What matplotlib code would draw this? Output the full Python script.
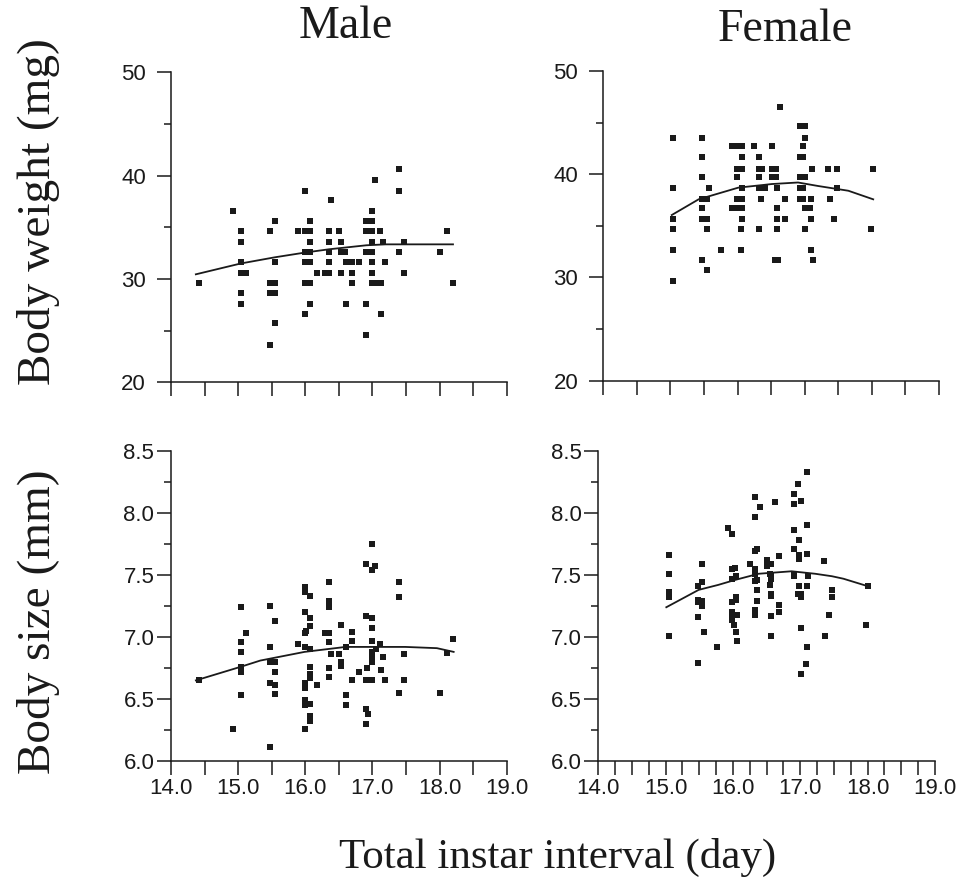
import matplotlib
matplotlib.use("Agg")
import matplotlib.pyplot as plt
from matplotlib.ticker import MultipleLocator, FormatStrFormatter

# ---------------- data
# Male, body weight (mg)
male_w_x = [14.42, 14.92, 15.04, 15.04, 15.04, 15.04, 15.12, 15.04, 15.04,
            15.48, 15.55, 15.55, 15.48, 15.55, 15.48, 15.55, 15.55, 15.48,
            15.99, 15.89, 15.99, 16.07, 16.07, 16.07, 15.99, 16.07, 15.99, 16.07, 15.99, 16.07, 16.07, 15.99,
            16.18, 16.30, 16.36, 16.38, 16.35, 16.35, 16.35, 16.35,
            16.50, 16.53, 16.53, 16.59, 16.53, 16.60, 16.70, 16.80, 16.70, 16.70, 16.60,
            16.91, 16.99, 16.99, 17.04, 16.91, 16.99, 17.11, 16.99, 17.16, 16.91, 16.99, 16.99, 17.19,
            17.00, 16.99, 17.06, 17.13, 16.91, 17.13, 16.91,
            17.39, 17.39, 17.47, 17.39, 17.47, 18.01, 18.11, 18.20]
male_w_y = [29.6, 36.6, 34.6, 33.6, 31.6, 30.6, 30.6, 28.6, 27.6,
            34.6, 35.6, 31.6, 29.6, 29.6, 28.6, 28.6, 25.7, 23.6,
            38.5, 34.6, 34.6, 34.6, 35.6, 33.6, 32.6, 32.6, 31.6, 31.6, 29.6, 29.6, 27.6, 26.6,
            30.6, 30.6, 30.6, 37.6, 34.6, 33.6, 32.6, 31.6,
            34.6, 33.6, 32.6, 32.6, 30.6, 31.6, 31.6, 31.6, 30.6, 29.6, 27.6,
            35.6, 35.6, 36.6, 39.6, 34.6, 34.6, 34.6, 33.6, 33.6, 32.6, 32.6, 31.6, 31.6,
            30.6, 29.6, 29.6, 29.6, 27.6, 26.6, 24.6,
            40.6, 38.5, 33.6, 32.6, 30.6, 32.6, 34.6, 29.6]
male_w_fit_x = [14.37, 15.04, 15.55, 15.99, 16.35, 16.91, 17.20, 17.60, 18.20]
male_w_fit_y = [30.45, 31.5, 32.1, 32.55, 32.87, 33.26, 33.35, 33.35, 33.35]

# Female, body weight (mg)
female_w_x = [15.04, 15.04, 15.04, 15.04, 15.04, 15.04,
              15.47, 15.47, 15.47, 15.47, 15.55, 15.47, 15.47, 15.55, 15.55, 15.47, 15.55, 15.58, 15.76,
              15.91, 16.01, 16.06, 16.06, 15.99, 16.06, 15.99, 16.06, 15.99, 16.06, 15.91, 15.99, 16.06,
              16.06, 16.05, 16.05,
              16.25, 16.32, 16.32, 16.36, 16.32, 16.32, 16.41, 16.35, 16.32,
              16.51, 16.51, 16.57, 16.51, 16.57, 16.58, 16.58, 16.58, 16.58, 16.55, 16.60, 16.63, 16.71, 16.71,
              16.93, 17.00, 17.01, 16.98, 16.93, 16.98, 16.93, 17.00, 16.93, 16.98, 16.93, 16.98, 17.00,
              17.08, 17.01,
              17.11, 17.10, 17.10, 17.09, 17.13,
              17.35, 17.48, 17.37, 17.48, 17.43, 18.01, 17.98]
female_w_y = [43.5, 38.7, 35.7, 34.7, 32.7, 29.7,
              43.5, 41.7, 39.7, 37.6, 37.6, 36.7, 35.7, 35.7, 34.7, 31.7, 30.7, 38.7, 32.7,
              42.7, 42.7, 42.7, 41.7, 40.5, 40.5, 39.7, 38.7, 37.6, 37.6, 36.7, 36.7, 36.7,
              35.7, 34.7, 32.7,
              42.7, 41.7, 40.5, 40.5, 39.7, 38.7, 38.7, 37.6, 34.7,
              42.7, 40.5, 40.5, 39.7, 39.7, 38.7, 36.7, 35.7, 34.7, 31.7, 31.7, 46.5, 37.6, 35.7,
              44.7, 44.7, 43.5, 42.7, 41.7, 41.7, 39.7, 39.7, 38.7, 38.7, 37.6, 37.6, 36.7,
              36.7, 34.7,
              40.5, 37.6, 35.7, 32.7, 31.7,
              40.5, 40.5, 37.6, 38.7, 35.7, 40.5, 34.7]
female_w_fit_x = [15.02, 15.42, 16.01, 16.51, 16.90, 17.20, 17.65, 18.02]
female_w_fit_y = [36.05, 37.57, 38.7, 39.05, 39.2, 38.86, 38.4, 37.57]

# Male, body size (mm)
male_s_x = [14.42, 14.92,
            15.04, 15.04, 15.04, 15.04, 15.04, 15.04, 15.12,
            15.48, 15.48, 15.48, 15.55, 15.48, 15.48, 15.55, 15.55, 15.55, 15.55,
            15.89, 15.99, 15.99, 16.07, 15.99, 16.07, 16.07, 16.01, 15.99, 15.99, 16.07, 16.07,
            16.07, 16.07, 15.99, 15.99, 15.99, 15.99, 16.07, 16.07, 16.07, 15.99,
            16.18, 16.35, 16.35, 16.35, 16.30, 16.36, 16.35, 16.38, 16.35, 16.35,
            16.53, 16.50, 16.53, 16.53, 16.60, 16.60, 16.60, 16.70, 16.70, 16.70, 16.80,
            16.91, 16.91, 16.92, 16.91, 16.99, 16.91, 16.93, 16.91, 16.99, 17.04, 17.00,
            16.99, 16.99, 16.99, 16.99, 16.99, 17.00, 17.06, 17.12, 17.16, 17.13, 17.19,
            17.39, 17.39, 17.47, 17.47, 17.39, 18.01, 18.11, 18.20]
male_s_y = [6.65, 6.26,
            7.24, 6.96, 6.88, 6.76, 6.72, 6.53, 7.03,
            7.25, 6.92, 6.80, 6.80, 6.63, 6.11, 7.13, 6.72, 6.61, 6.54,
            6.94, 7.40, 7.36, 7.33, 7.20, 7.15, 7.09, 7.05, 7.03, 6.92, 6.90, 6.76,
            6.70, 6.67, 6.63, 6.59, 6.49, 6.45, 6.46, 6.36, 6.32, 6.26,
            6.61, 7.44, 7.29, 7.24, 7.03, 7.03, 6.96, 6.86, 6.75, 6.68,
            7.10, 6.86, 6.80, 6.77, 6.92, 6.53, 6.45, 7.04, 6.97, 6.65, 6.72,
            7.59, 7.17, 6.75, 6.65, 6.65, 6.42, 6.38, 6.30, 7.75, 7.57, 7.54,
            7.15, 7.07, 6.97, 6.88, 6.84, 6.80, 6.90, 6.94, 6.84, 6.73, 6.65,
            7.44, 7.32, 6.86, 6.65, 6.55, 6.55, 6.87, 6.98]
male_s_fit_x = [14.37, 15.04, 15.33, 15.99, 16.60, 17.01, 17.49, 17.96, 18.21]
male_s_fit_y = [6.65, 6.76, 6.81, 6.88, 6.92, 6.92, 6.92, 6.91, 6.88]

# Female, body size (mm)
female_s_x = [15.05, 15.05, 15.05, 15.05, 15.05,
              15.48, 15.48, 15.48, 15.48, 15.48, 15.54, 15.54, 15.54, 15.54, 15.57, 15.77,
              15.92, 15.98, 15.98, 16.03, 15.98, 15.98, 15.98, 15.98, 15.98, 16.01, 16.04,
              16.05, 16.05, 16.05, 16.06, 16.06,
              16.25, 16.33, 16.33, 16.40, 16.33, 16.35, 16.33, 16.33, 16.35, 16.33, 16.35,
              16.35, 16.33, 16.33,
              16.50, 16.51, 16.57, 16.55, 16.57, 16.57, 16.55, 16.57, 16.57, 16.57, 16.57,
              16.62, 16.69, 16.69, 16.69,
              16.91, 16.91, 16.96, 17.01, 16.91, 16.98, 16.91, 16.98, 16.98, 16.91, 16.91,
              16.98, 16.96, 17.01, 17.01, 17.01, 17.01, 17.08,
              17.10, 17.10, 17.10, 17.10, 17.12, 17.10,
              17.35, 17.37, 17.42, 17.47, 17.47, 18.00, 17.97]
female_s_y = [7.66, 7.51, 7.36, 7.32, 7.01,
              7.41, 7.30, 7.28, 7.16, 6.79, 7.59, 7.44, 7.29, 7.25, 7.04, 6.92,
              7.88, 7.83, 7.55, 7.56, 7.47, 7.28, 7.20, 7.16, 7.14, 7.10, 7.04,
              7.49, 7.32, 7.30, 7.18, 6.97,
              7.59, 8.13, 7.97, 8.05, 7.69, 7.71, 7.55, 7.51, 7.46, 7.45, 7.38,
              7.29, 7.22, 7.18,
              7.62, 7.57, 7.59, 7.51, 7.50, 7.47, 7.42, 7.35, 7.33, 7.17, 7.01,
              8.09, 7.65, 7.26, 7.20,
              8.15, 8.07, 8.23, 8.10, 7.86, 7.78, 7.71, 7.66, 7.63, 7.50, 7.49,
              7.41, 7.35, 7.35, 7.32, 7.07, 6.70, 6.78,
              8.33, 7.90, 7.67, 7.41, 7.49, 6.92,
              7.61, 7.01, 7.18, 7.38, 7.32, 7.41, 7.10]
female_s_fit_x = [15.01, 15.49, 15.78, 16.03, 16.38, 16.87, 17.22, 17.47, 17.64, 18.00]
female_s_fit_y = [7.24, 7.38, 7.42, 7.46, 7.51, 7.53, 7.51, 7.49, 7.47, 7.41]

#------------- figure
W, H = 957, 877
fig = plt.figure(figsize=(W / 100, H / 100), dpi=100)

sans = "Liberation Sans"
serif = "Liberation Serif"
ink = "#1a1a1a"


def panel(rect, xs, ys, fx, fy, top, minor_x):
    ax = fig.add_axes(rect)
    ax.plot(xs, ys, "s", color=ink, markersize=4.0, markeredgewidth=0)
    ax.plot(fx, fy, "-", color=ink, linewidth=1.3)
    ax.spines["top"].set_visible(False)
    ax.spines["right"].set_visible(False)
    for s in ("left", "bottom"):
        ax.spines[s].set_linewidth(1.1)
        ax.spines[s].set_color(ink)
    ax.set_xlim(14.0, 19.0)
    ax.xaxis.set_major_locator(MultipleLocator(1.0))
    ax.xaxis.set_minor_locator(MultipleLocator(minor_x))
    ax.xaxis.set_major_formatter(FormatStrFormatter("%.1f"))
    if top:
        ax.set_ylim(20, 50)
        ax.yaxis.set_major_locator(MultipleLocator(10))
        ax.yaxis.set_minor_locator(MultipleLocator(5))
        ax.yaxis.set_major_formatter(FormatStrFormatter("%d"))
        ax.tick_params(axis="x", which="both", labelbottom=False)
    else:
        ax.set_ylim(6.0, 8.5)
        ax.yaxis.set_major_locator(MultipleLocator(0.5))
        ax.yaxis.set_minor_locator(MultipleLocator(0.25))
        ax.yaxis.set_major_formatter(FormatStrFormatter("%.1f"))
    ax.tick_params(axis="x", which="both", direction="out", length=10, width=1.1,
                   color=ink, pad=2)
    ax.tick_params(axis="y", which="major", direction="out", length=10, width=1.1,
                   color=ink, pad=2 if not top else 8)
    ax.tick_params(axis="y", which="minor", direction="out", length=5, width=1.1, color=ink)
    for lab in ax.get_xticklabels() + ax.get_yticklabels():
        lab.set_fontfamily(sans)
        lab.set_fontsize(16)
        lab.set_color(ink)
    ax.set_facecolor("none")
    return ax


def px(left, right, top, bottom):
    return [left / W, 1 - bottom / H, (right - left) / W, (bottom - top) / H]


panel(px(171, 506.7, 72.3, 382.3), male_w_x, male_w_y, male_w_fit_x, male_w_fit_y, True, 0.5)
panel(px(603.3, 939, 71, 380.7), female_w_x, female_w_y, female_w_fit_x, female_w_fit_y, True, 0.5)
panel(px(171, 506.7, 451, 761), male_s_x, male_s_y, male_s_fit_x, male_s_fit_y, False, 0.5)
panel(px(598.3, 935, 451, 761), female_s_x, female_s_y, female_s_fit_x, female_s_fit_y, False, 0.25)

fig.text(346 / W, 1 - 38 / H, "Male", family=serif, fontsize=33, color=ink,
         ha="center", va="baseline")
fig.text(785 / W, 1 - 41 / H, "Female", family=serif, fontsize=33, color=ink,
         ha="center", va="baseline")
fig.text(39 / W, 1 - 212 / H, "Body weight (mg)", family=serif, fontsize=34, color=ink,
         rotation=90, ha="center", va="center")
fig.text(39 / W, 1 - 622 / H, "Body size (mm)", family=serif, fontsize=34, color=ink,
         rotation=90, ha="center", va="center")
fig.text(558 / W, 1 - 857 / H, "Total instar interval (day)", family=serif, fontsize=31,
         color=ink, ha="center", va="center")

fig.savefig("out.png", dpi=100, facecolor="white")
